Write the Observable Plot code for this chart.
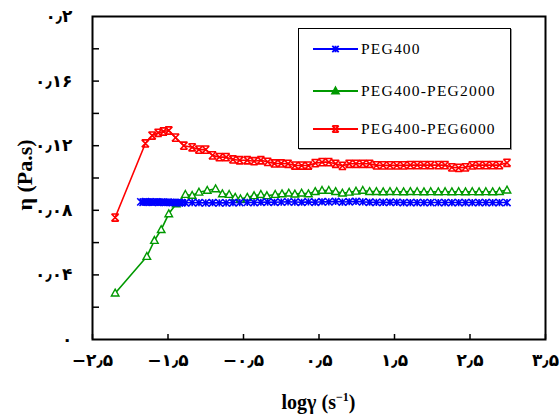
<!DOCTYPE html>
<html><head><meta charset="utf-8">
<script src="https://cdn.jsdelivr.net/npm/d3@7"></script>
<script src="https://cdn.jsdelivr.net/npm/@observablehq/plot@0.6"></script>
<style>
body{margin:0;background:#fff;}
#wrap{position:relative;width:559px;height:419px;overflow:hidden;}
#wrap svg{display:block;}
.ttl{position:absolute;font-family:"Liberation Serif",serif;font-weight:bold;color:#000;white-space:nowrap;}
#legend{position:absolute;left:298px;top:28px;width:211px;height:119px;border:1px solid #000;box-shadow:1px 1px 0 #999;background:#fff;}
#legend .row{position:absolute;left:0;height:20px;}
#legend .lab{position:absolute;left:62px;top:0;font-family:"Liberation Serif",serif;font-size:15.5px;letter-spacing:1.2px;line-height:20px;color:#000;white-space:nowrap;}
</style></head><body>
<div id="wrap"></div>
<script>
// ---- tick labels ----
const xTickValues = [-2.5, -1.5, -0.5, 0.5, 1.5, 2.5, 3.5];
const xTickLabels = ["−۲٫۵", "−۱٫۵", "−۰٫۵", "۰٫۵", "۱٫۵", "۲٫۵", "۳٫۵"];
const yTickValues = [0, 0.04, 0.08, 0.12, 0.16, 0.2];
const yTickLabels = ["۰", "۰٫۰۴", "۰٫۰۸", "۰٫۱۲", "۰٫۱۶", "۰٫۲"];
const yAllTicks = [0.02, 0.04, 0.06, 0.08, 0.1, 0.12, 0.14, 0.16, 0.18];
const xTitle = "logγ (s";
const yTitle = "η (Pa.s)";

// ---- series ----
const seriesNames = ["PEG400", "PEG400-PEG2000", "PEG400-PEG6000"];
const seriesColors = ["#0000ff", "#009900", "#ff0000"];

const peg400X = [-1.86,-1.83,-1.80,-1.77,-1.74,-1.71,-1.68,-1.65,-1.62,-1.59,-1.56,-1.53,-1.50,-1.47,-1.44,-1.41,-1.38,-1.35,-1.32,
  -1.27,-1.18,-1.09,-1.00,-0.91,-0.82,-0.73,-0.64,-0.55,-0.45,-0.36,-0.27,-0.18,-0.09,
  0.00,0.09,0.18,0.27,0.36,0.45,0.54,0.63,0.72,0.81,0.90,0.99,
  1.08,1.17,1.26,1.35,1.44,1.53,1.62,1.71,1.80,1.89,1.98,
  2.08,2.17,2.26,2.35,2.44,2.53,2.62,2.71,2.80,2.89,2.99];
const peg400Y = [0.0852,0.0850,0.0853,0.0851,0.0852,0.0850,0.0851,0.0852,0.0850,0.0851,0.0850,0.0849,0.0850,0.0849,0.0848,0.0849,0.0848,0.0848,0.0847,
  0.0847,0.0848,0.0847,0.0846,0.0847,0.0846,0.0846,0.0847,0.0848,0.0849,0.0848,0.0850,0.0851,0.0850,
  0.0851,0.0852,0.0851,0.0850,0.0852,0.0850,0.0853,0.0852,0.0855,0.0851,0.0853,0.0855,
  0.0852,0.0850,0.0849,0.0849,0.0850,0.0849,0.0848,0.0848,0.0848,0.0848,0.0848,
  0.0848,0.0848,0.0848,0.0848,0.0848,0.0848,0.0848,0.0848,0.0848,0.0848,0.0848];

const peg2000X = [-2.20,-1.78,-1.68,-1.59,-1.49,-1.39,
  -1.27,-1.18,-1.09,-0.98,-0.87,-0.78,-0.69,-0.61,-0.54,-0.45,-0.36,-0.27,-0.19,-0.08,
  0.01,0.10,0.18,0.27,0.36,0.45,0.54,0.63,0.72,0.81,0.90,0.99,
  1.08,1.17,1.26,1.35,1.44,1.53,1.62,1.71,1.80,1.89,1.98,
  2.08,2.17,2.26,2.35,2.44,2.53,2.62,2.71,2.80,2.89,2.99];
const peg2000Y = [0.0287,0.0514,0.0613,0.0680,0.0778,0.0840,
  0.0898,0.0892,0.0912,0.0923,0.0933,0.0902,0.0898,0.0880,0.0870,0.0880,0.0890,0.0898,0.0890,0.0898,
  0.0902,0.0906,0.0900,0.0906,0.0902,0.0916,0.0923,0.0923,0.0916,0.0906,0.0912,0.0918,
  0.0923,0.0916,0.0916,0.0914,0.0916,0.0915,0.0914,0.0916,0.0915,0.0914,0.0915,
  0.0914,0.0915,0.0914,0.0915,0.0914,0.0915,0.0914,0.0915,0.0914,0.0916,0.0925];

const peg6000X = [-2.20,-1.80,-1.71,-1.63,-1.56,-1.49,-1.40,-1.29,
  -1.18,-1.09,-1.00,-0.91,-0.82,-0.73,-0.64,-0.55,-0.45,-0.36,-0.27,-0.18,-0.09,
  0.00,0.09,0.18,0.27,0.36,0.45,0.54,0.63,0.72,0.81,0.90,0.99,
  1.08,1.17,1.26,1.35,1.44,1.53,1.62,1.71,1.80,1.89,1.98,
  2.08,2.17,2.26,2.35,2.44,2.53,2.62,2.71,2.80,2.89,2.99];
const peg6000Y = [0.0755,0.1214,0.1263,0.1280,0.1288,0.1294,0.1250,0.1200,
  0.1190,0.1176,0.1176,0.1140,0.1129,0.1129,0.1115,0.1110,0.1110,0.1104,0.1110,0.1100,0.1090,
  0.1090,0.1088,0.1077,0.1077,0.1077,0.1092,0.1098,0.1098,0.1088,0.1075,0.1088,0.1088,
  0.1088,0.1088,0.1078,0.1078,0.1078,0.1078,0.1078,0.1080,0.1080,0.1080,0.1080,
  0.1080,0.1080,0.1066,0.1063,0.1066,0.1078,0.1080,0.1080,0.1080,0.1080,0.1094];

// ---- custom marker shapes ----
const symStar = {draw(ctx, size){ const r = Math.sqrt(size/Math.PI);
  ctx.moveTo(-r,-r); ctx.lineTo(r,r); ctx.moveTo(-r,r); ctx.lineTo(r,-r); ctx.moveTo(0,-r); ctx.lineTo(0,r); }};
const symBarX = {draw(ctx, size){ const r = Math.sqrt(size/Math.PI);
  ctx.moveTo(-r,-r); ctx.lineTo(r,r); ctx.moveTo(-r,r); ctx.lineTo(r,-r);
  ctx.moveTo(-r,-r); ctx.lineTo(r,-r); ctx.moveTo(-r,r); ctx.lineTo(r,r); }};
const symTri = {draw(ctx, size){ const r = Math.sqrt(size/Math.PI);
  ctx.moveTo(0,-r*1.1); ctx.lineTo(r*1.05,r*0.8); ctx.lineTo(-r*1.05,r*0.8); ctx.closePath(); }};

const toRows = (xs, ys) => xs.map((x, i) => ({x, y: ys[i]}));
const blue = toRows(peg400X, peg400Y);
const green = toRows(peg2000X, peg2000Y);
const red = toRows(peg6000X, peg6000Y);

const W = 559, H = 419, mL = 92, mR = 14, mT = 16, mB = 80;
const frameW = W - mL - mR, frameH = H - mT - mB;

const chart = Plot.plot({
  width: W, height: H,
  marginLeft: mL, marginRight: mR, marginTop: mT, marginBottom: mB,
  x: {domain: [-2.5, 3.5]},
  y: {domain: [0, 0.2]},
  style: {background: "#fff", color: "#000"},
  marks: [
    Plot.line(green, {x: "x", y: "y", stroke: seriesColors[1], strokeWidth: 1.6}),
    Plot.line(blue, {x: "x", y: "y", stroke: seriesColors[0], strokeWidth: 1.6}),
    Plot.line(red, {x: "x", y: "y", stroke: seriesColors[2], strokeWidth: 1.6}),
    Plot.dot(green, {x: "x", y: "y", symbol: symTri, r: 3.6, stroke: seriesColors[1], fill: "#fff", strokeWidth: 1.4}),
    Plot.dot(blue, {x: "x", y: "y", symbol: symStar, r: 3.6, stroke: seriesColors[0], strokeWidth: 1.6}),
    Plot.dot(red, {x: "x", y: "y", symbol: symBarX, r: 3.6, stroke: seriesColors[2], strokeWidth: 1.6}),
    Plot.tickX(xTickValues, {x: d => d, insetTop: frameH - 5, stroke: "#000", strokeWidth: 1.5}),
    Plot.tickY(yAllTicks, {y: d => d, insetRight: frameW - 7, stroke: "#000", strokeWidth: 1.5}),
    Plot.frame({stroke: "#000", strokeWidth: 2}),
    Plot.axisX(xTickValues, {tickSize: 0, tickPadding: 14, label: null, fontSize: 17, fontWeight: "bold",
      fontFamily: "DejaVu Sans", tickFormat: d => xTickLabels[xTickValues.indexOf(d)]}),
    Plot.axisY(yTickValues, {tickSize: 0, tickPadding: 20, label: null, fontSize: 17, fontWeight: "bold",
      fontFamily: "DejaVu Sans", tickFormat: d => yTickLabels[yTickValues.indexOf(d)]})
  ]
});

const wrap = document.getElementById("wrap");
wrap.appendChild(chart);

// axis titles
const xt = document.createElement("div");
xt.className = "ttl";
xt.style.cssText = "left:0;width:" + (2*(mL + frameW/2)) + "px;text-align:center;top:390px;font-size:20px;";
xt.innerHTML = xTitle + "<sup style='font-size:12px'>−1</sup>)";
wrap.appendChild(xt);

const yt = document.createElement("div");
yt.className = "ttl";
yt.style.cssText = "left:25px;top:" + (mT + frameH/2 - 16) + "px;font-size:22px;transform:translate(-50%,0) rotate(-90deg);transform-origin:50% 50%;";
yt.textContent = yTitle;
wrap.appendChild(yt);

// legend
const legend = document.createElement("div");
legend.id = "legend";
wrap.appendChild(legend);
const syms = [symStar, symTri, symBarX];
const rowTops = [10, 52, 90];
seriesNames.forEach((name, i) => {
  const row = document.createElement("div");
  row.className = "row";
  row.style.top = rowTops[i] + "px";
  row.style.width = "211px";
  const svg = d3.create("svg").attr("width", 62).attr("height", 20).style("position", "absolute").style("left", "0").style("top", "0");
  svg.append("line").attr("x1", 14).attr("x2", 59).attr("y1", 10).attr("y2", 10).attr("stroke", seriesColors[i]).attr("stroke-width", 2);
  svg.append("path").attr("transform", "translate(36.5,10)")
    .attr("d", d3.symbol(syms[i], 3.2*3.2*Math.PI)())
    .attr("stroke", seriesColors[i]).attr("stroke-width", 1.8)
    .attr("fill", i === 1 ? seriesColors[i] : "none");
  row.appendChild(svg.node());
  const lab = document.createElement("div");
  lab.className = "lab";
  lab.textContent = name;
  row.appendChild(lab);
  legend.appendChild(row);
});
</script>
</body></html>
